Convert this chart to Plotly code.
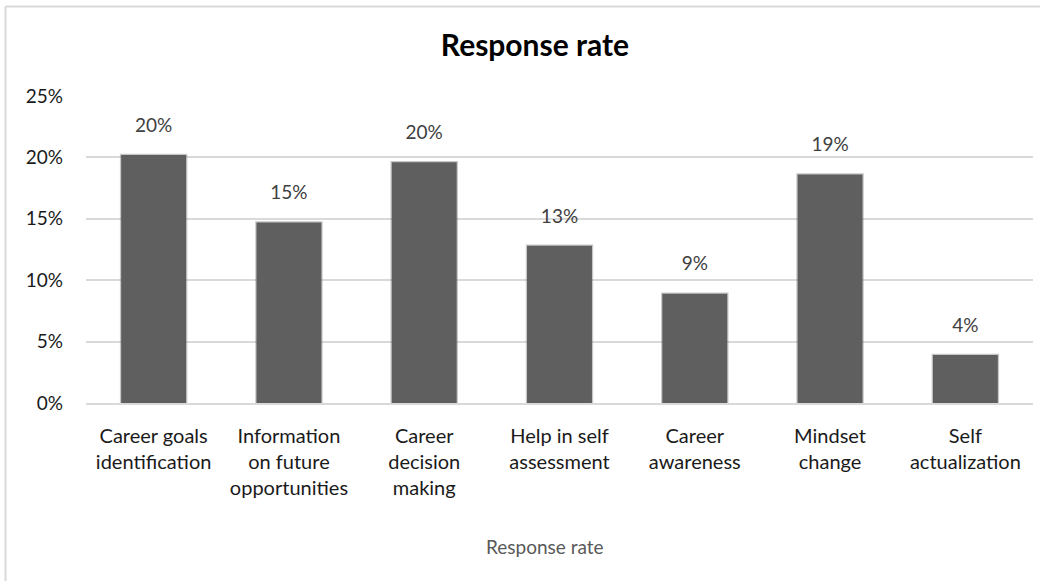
import plotly.graph_objects as go

categories = [
    "Career goals<br>identification",
    "Information<br>on future<br>opportunities",
    "Career<br>decision<br>making",
    "Help in self<br>assessment",
    "Career<br>awareness",
    "Mindset<br>change",
    "Self<br>actualization",
]
response_rate = [0.202, 0.147, 0.196, 0.128, 0.089, 0.186, 0.039]
y_ticks = [0, 0.05, 0.10, 0.15, 0.20, 0.25]
y_tick_labels = ["0%", "5%", "10%", "15%", "20%", "25%"]

FONT = "Lato, 'Noto Sans', sans-serif"
GRID = "#d9d9d9"

fig = go.Figure()
fig.add_trace(go.Bar(
    x=categories,
    y=response_rate,
    width=0.48,
    marker=dict(color="#5f5f5f", line=dict(color="rgba(95,95,95,0.35)", width=2.5)),
    hoverinfo="skip",
    showlegend=False,
))
fig.add_trace(go.Scatter(
    x=categories,
    y=response_rate,
    mode="markers+text",
    marker=dict(size=28, opacity=0),
    texttemplate="%{y:.0%}",
    textposition="top center",
    textfont=dict(family=FONT, size=19, color="#404040"),
    hoverinfo="skip",
    showlegend=False,
    cliponaxis=False,
))

fig.update_layout(
    width=1049,
    height=581,
    margin=dict(l=86, r=16, t=96, b=178),
    paper_bgcolor="white",
    plot_bgcolor="white",
    font=dict(family=FONT, color="#1a1a1a"),
    title=dict(
        text="<b>Response rate</b>",
        x=0.51, xref="container", xanchor="center",
        y=1 - 45 / 581, yref="container", yanchor="middle",
        font=dict(family=FONT, size=30, color="#000000"),
    ),
    xaxis=dict(
        tickfont=dict(family=FONT, size=20, color="#1a1a1a"),
        showgrid=False,
        showline=True, linecolor=GRID, linewidth=2,
        ticks="",
        ticklabelstandoff=14,
        fixedrange=True,
    ),
    yaxis=dict(
        range=[0, 0.25],
        tickvals=y_ticks,
        ticktext=y_tick_labels,
        tickfont=dict(family=FONT, size=19, color="#1a1a1a"),
        showgrid=True, gridcolor=GRID, gridwidth=2,
        zeroline=False,
        ticks="",
        ticklabelstandoff=22,
        fixedrange=True,
    ),
    annotations=[dict(
        text="Response rate",
        xref="paper", yref="paper",
        x=(545 - 86) / 947, y=(403 - 546) / 307,
        xanchor="center", yanchor="middle",
        showarrow=False,
        font=dict(family=FONT, size=19, color="#595959"),
    )],
    shapes=[
        dict(type="line", xref="paper", yref="paper",
             x0=(5.5 - 86) / 947, x1=(1040 - 86) / 947,
             y0=(403 - 6.5) / 307, y1=(403 - 6.5) / 307,
             line=dict(color=GRID, width=2)),
        dict(type="line", xref="paper", yref="paper",
             x0=(5.5 - 86) / 947, x1=(5.5 - 86) / 947,
             y0=(403 - 6.5) / 307, y1=(403 - 585) / 307,
             line=dict(color=GRID, width=2)),
    ],
)

fig.write_html("out.html")
